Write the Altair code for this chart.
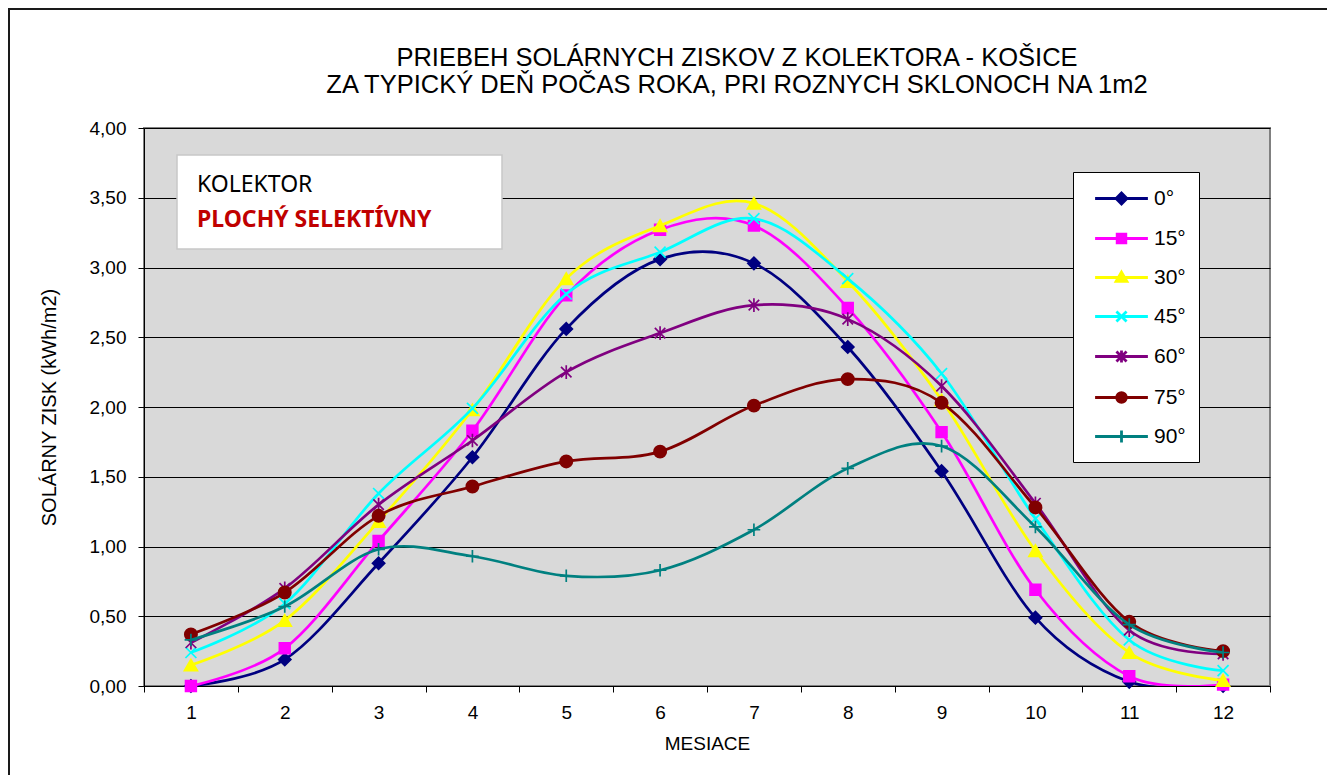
import altair as alt
import pandas as pd

# ---------------- data ----------------
months = list(range(1, 13))
angles = ["0°", "15°", "30°", "45°", "60°", "75°", "90°"]
s0 = [0.00, 0.19, 0.88, 1.64, 2.56, 3.06, 3.03, 2.43, 1.54, 0.49, 0.03, 0.00]
s15 = [0.00, 0.27, 1.04, 1.83, 2.80, 3.27, 3.30, 2.71, 1.82, 0.69, 0.07, 0.01]
s30 = [0.15, 0.47, 1.18, 1.98, 2.92, 3.30, 3.46, 2.90, 2.05, 0.97, 0.24, 0.04]
s45 = [0.24, 0.59, 1.38, 1.99, 2.81, 3.11, 3.35, 2.92, 2.24, 1.20, 0.33, 0.11]
s60 = [0.31, 0.70, 1.30, 1.76, 2.25, 2.53, 2.73, 2.63, 2.15, 1.31, 0.40, 0.23]
s75 = [0.37, 0.67, 1.22, 1.43, 1.61, 1.68, 2.01, 2.20, 2.03, 1.28, 0.46, 0.25]
s90 = [0.33, 0.57, 0.98, 0.93, 0.79, 0.83, 1.12, 1.56, 1.72, 1.14, 0.44, 0.24]
series_values = [s0, s15, s30, s45, s60, s75, s90]
y_ticks = [0.0, 0.5, 1.0, 1.5, 2.0, 2.5, 3.0, 3.5, 4.0]
annotation_lines = ["KOLEKTOR", "PLOCHÝ SELEKTÍVNY"]
title_lines = ["PRIEBEH SOLÁRNYCH ZISKOV Z KOLEKTORA - KOŠICE",
               "ZA TYPICKÝ  DEŇ POČAS ROKA, PRI ROZNYCH  SKLONOCH NA 1m2"]

colors = ["#000080", "#FF00FF", "#FFFF00", "#00FFFF", "#800080", "#800000", "#008080"]
marker_shapes = ["diamond", "square", "triangle-up",
                 "M-1,-1L1,1M-1,1L1,-1",
                 "M-1,-1L1,1M-1,1L1,-1M0,-1.3L0,1.3",
                 "circle",
                 "M-1,0L1,0M0,-1L0,1"]
marker_sizes = [150, 115, 170, 120, 110, 150, 160]
LINE = "M-2.2,0L2.2,0"
legend_paths = [
    LINE + "M0,-0.45L0.45,0L0,0.45L-0.45,0Z",
    LINE + "M-0.36,-0.36L0.36,-0.36L0.36,0.36L-0.36,0.36Z",
    LINE + "M0,-0.45L0.45,0.33L-0.45,0.33Z",
    LINE + "M-0.42,-0.42L0.42,0.42M-0.42,0.42L0.42,-0.42",
    LINE + "M-0.42,-0.42L0.42,0.42M-0.42,0.42L0.42,-0.42M0,-0.5L0,0.5",
    LINE + "M-0.4,0A0.4,0.4 0 1,0 0.4,0A0.4,0.4 0 1,0 -0.4,0Z",
    LINE + "M0,-0.5L0,0.5",
]

rows = []
for a, vals in zip(angles, series_values):
    for m, v in zip(months, vals):
        rows.append({"month": m, "angle": a, "value": v})
df = pd.DataFrame(rows)

FONT = "Liberation Sans"

x_enc = alt.X(
    "month:O",
    scale=alt.Scale(type="band", domain=months, paddingInner=0, paddingOuter=0),
    axis=alt.Axis(
        title="MESIACE", labelAngle=0, tickBand="extent", grid=False,
        labelFontSize=19, labelPadding=11, titleFontSize=19, titlePadding=12,
        tickSize=6, domainColor="black", tickColor="black",
    ),
)
y_enc = alt.Y(
    "value:Q",
    scale=alt.Scale(domain=[0, 4], nice=False, zero=True),
    axis=alt.Axis(
        title="SOLÁRNY ZISK  (kWh/m2)", values=y_ticks,
        labelExpr="replace(format(datum.value, '.2f'), '.', ',')",
        labelFontSize=19, labelPadding=12, titleFontSize=20, titlePadding=30,
        tickSize=6, grid=True, gridColor="black", gridWidth=1,
        domainColor="black", tickColor="black",
    ),
)

base = alt.Chart(df)
layers = []
for a, c, shp, sz in zip(angles, colors, marker_shapes, marker_sizes):
    sub = base.transform_filter(alt.datum.angle == a)
    layers.append(
        sub.mark_line(color=c, strokeWidth=2.7, interpolate="cardinal", clip=True)
        .encode(x=x_enc, y=y_enc)
    )
    layers.append(
        sub.mark_point(shape=shp, size=sz, filled=True, fill=c, stroke=c,
                       strokeWidth=1.7, opacity=1)
        .encode(x=x_enc, y=y_enc)
    )

leg_params = dict(
    orient="none", legendX=929, legendY=44, title=None, direction="vertical",
    padding=13, fillColor="white", strokeColor="black",
    symbolSize=576, symbolStrokeWidth=2.8, symbolOffset=22,
    labelFontSize=21, labelFont=FONT, labelOffset=19, rowPadding=15,
)
legend_layer = (
    base.transform_filter("false")
    .mark_point(filled=True, opacity=1)
    .encode(
        x=x_enc, y=y_enc,
        fill=alt.Fill("angle:N", scale=alt.Scale(domain=angles, range=colors),
                      legend=alt.Legend(**leg_params)),
        stroke=alt.Stroke("angle:N", scale=alt.Scale(domain=angles, range=colors),
                          legend=alt.Legend(**leg_params)),
        shape=alt.Shape("angle:N", scale=alt.Scale(domain=angles, range=legend_paths),
                        legend=alt.Legend(**leg_params)),
    )
)

one = alt.Chart(pd.DataFrame({"k": [0]}))
ann_box = one.mark_rect(fill="white", stroke="#c8c8c8", strokeWidth=1.5).encode(
    x=alt.value(33), x2=alt.value(358), y=alt.value(27), y2=alt.value(121)
)
ann_t1 = one.mark_text(align="left", baseline="alphabetic", font="Noto Sans",
                       fontSize=23, color="black").encode(
    x=alt.value(53), y=alt.value(64), text=alt.value(annotation_lines[0]))
ann_t2 = one.mark_text(align="left", baseline="alphabetic", font="Noto Sans",
                       fontSize=23, fontWeight="bold", color="#C00000").encode(
    x=alt.value(53), y=alt.value(99), text=alt.value(annotation_lines[1]))

title_t1 = one.mark_text(align="center", baseline="alphabetic", font=FONT,
                         fontSize=25.5, color="black").encode(
    x=alt.value(593), y=alt.value(-62), text=alt.value(title_lines[0]))
title_t2 = one.mark_text(align="center", baseline="alphabetic", font=FONT,
                         fontSize=25.5, color="black").encode(
    x=alt.value(593), y=alt.value(-35), text=alt.value(title_lines[1]))

frame_top = one.mark_rule(color="#1a1a1a", strokeWidth=2).encode(
    x=alt.value(-136), x2=alt.value(1190), y=alt.value(-119))
frame_left = one.mark_rule(color="#1a1a1a", strokeWidth=2).encode(
    x=alt.value(-135), y=alt.value(-120), y2=alt.value(650))

chart = (
    alt.layer(frame_top, frame_left, title_t1, title_t2, *layers,
              ann_box, ann_t1, ann_t2, legend_layer)
    .properties(
        width=1126, height=558,
        autosize=alt.AutoSizeParams(type="none"),
        padding={"left": 136, "top": 120, "right": 57, "bottom": 89},
        background="white",
    )
    .configure_view(fill="#d9d9d9", stroke="#808080", strokeWidth=2)
    .configure_axis(labelFont=FONT, titleFont=FONT, titleFontWeight="normal",
                    labelColor="black", titleColor="black")
)

chart.save("out.html", embed_options={"renderer": "svg", "actions": False})
